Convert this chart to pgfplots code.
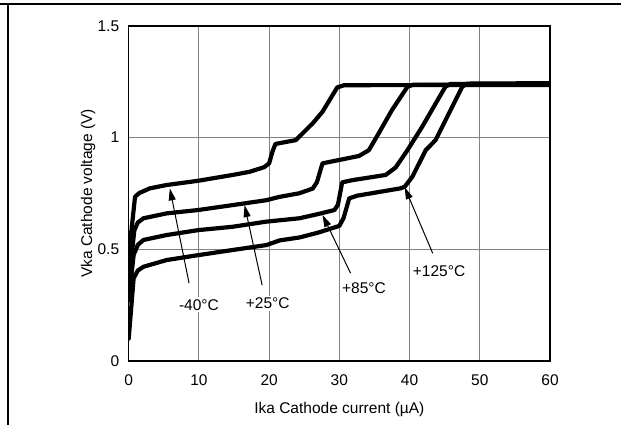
\documentclass[border=0pt]{standalone}
\usepackage{fontspec}
\setmainfont{Liberation Sans}
\usepackage{pgfplots}
\pgfplotsset{compat=1.18}
\usetikzlibrary{arrows.meta}

\pgfplotsset{curve/.style={black, no markers, line width=4.2pt, line join=round, line cap=round}}

\begin{document}
\begin{tikzpicture}[font=\fontsize{15.5}{18}\selectfont]
\path[use as bounding box] (0pt,0pt) rectangle (621pt,425pt);
\draw[line width=2pt] (0pt,420.5pt) -- (621pt,420.5pt);
\draw[line width=2pt] (7.7pt,0pt) -- (7.7pt,421.5pt);
\begin{axis}[
    at={(128.7pt,64pt)}, anchor=south west,
    width=421.3pt, height=335pt, scale only axis,
    xmin=0, xmax=60, ymin=0, ymax=1.5,
    xtick={0,10,...,60}, ytick={0,0.5,1,1.5},
    grid=major, major tick length=0pt,
    major grid style={line width=1.1pt, color={rgb,255:red,128;green,128;blue,128}},
    axis line style={line width=1.4pt, black},
    /pgf/number format/assume math mode=true,
    yticklabel style={xshift=-6pt},
    xticklabel style={yshift=-10pt},
    xlabel={Ika Cathode current (µA)},
    ylabel={Vka Cathode voltage (V)},
    xlabel style={at={(axis description cs:0.5,-0.146)}, anchor=center},
    ylabel style={at={(axis description cs:-0.0966,0.5)}, anchor=center},
  ]
  % -40 C
  \addplot[curve] coordinates{ (0,0.47) (0.9,0.735) (1.5,0.752) (3,0.773) (5.4,0.788)
    (9.9,0.807) (14.8,0.833) (17.2,0.847) (19.3,0.868) (20.0,0.885) (20.5,0.94)
    (20.9,0.972) (23.8,0.989) (26.2,1.064) (27.6,1.116) (29.7,1.225) (30.7,1.235) (60,1.236) };
  % +25 C
  \addplot[curve] coordinates{ (0,0.35) (0.8,0.585) (1.3,0.62) (2.1,0.639) (5.4,0.661)
    (9.9,0.676) (14.8,0.698) (19.6,0.72) (21.5,0.735) (24.3,0.751) (26.2,0.772)
    (26.8,0.80) (27.6,0.885) (29.5,0.897) (32.8,0.918) (34.2,0.944) (35.6,1.019)
    (37.5,1.124) (39.7,1.228) (40.5,1.237) (60,1.238) };
  % +85 C
  \addplot[curve] coordinates{ (0,0.27) (0.7,0.475) (1.3,0.52) (2.1,0.542) (5.4,0.564)
    (9.9,0.586) (14.8,0.601) (19.6,0.624) (24.3,0.639) (27.4,0.661) (29.3,0.676)
    (29.8,0.70) (30.4,0.80) (31.9,0.81) (36.6,0.833) (38,0.866) (39.7,0.944)
    (41.8,1.049) (45.1,1.228) (45.8,1.24) (60,1.241) };
  % +125 C
  \addplot[curve] coordinates{ (0,0.10) (0.7,0.37) (1.3,0.405) (2.1,0.422) (5.4,0.452)
    (9.9,0.474) (14.8,0.497) (19.6,0.519) (21.5,0.54) (24.3,0.553) (27,0.575)
    (30,0.605) (30.6,0.64) (31.4,0.728) (32.5,0.74) (38.7,0.773) (39.3,0.78)
    (40.4,0.825) (42.3,0.944) (43.7,0.989) (47.5,1.228) (48.2,1.242) (60,1.244) };

  \draw[-{Triangle[length=12pt,width=7pt]}, line width=1pt] (axis cs:8.6,0.348) -- (axis cs:5.86,0.773);
  \draw[-{Triangle[length=12pt,width=7pt]}, line width=1pt] (axis cs:19.0,0.34) -- (axis cs:16.5,0.698);
  \draw[-{Triangle[length=12pt,width=7pt]}, line width=1pt] (axis cs:31.6,0.393) -- (axis cs:27.6,0.654);
  \draw[-{Triangle[length=12pt,width=7pt]}, line width=1pt] (axis cs:43.3,0.482) -- (axis cs:39.3,0.778);
  \node[fill=white, inner sep=2pt] at (axis cs:10.0,0.251) {-40°C};
  \node[fill=white, inner sep=2pt] at (axis cs:19.8,0.258) {+25°C};
  \node[fill=white, inner sep=2pt] at (axis cs:33.5,0.325) {+85°C};
  \node[fill=white, inner sep=2pt] at (axis cs:44.2,0.404) {+125°C};
\end{axis}
\end{tikzpicture}
\end{document}
